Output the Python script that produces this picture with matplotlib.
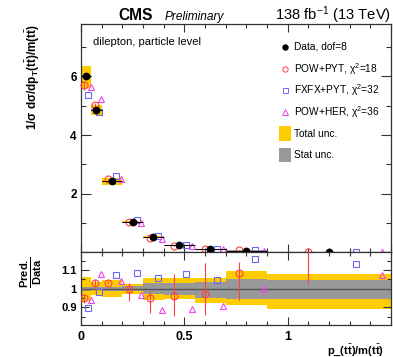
import numpy as np
import matplotlib
matplotlib.use("Agg")
import matplotlib.pyplot as plt
from matplotlib.ticker import MultipleLocator, FixedLocator

plt.rcParams['font.family'] = ['Liberation Sans', 'DejaVu Sans']
plt.rcParams['mathtext.fontset'] = 'custom'
plt.rcParams['mathtext.rm'] = 'Liberation Sans'
plt.rcParams['mathtext.bf'] = 'Liberation Sans:bold'
plt.rcParams['mathtext.it'] = 'Liberation Sans:italic'

# Binning in p_T(tt)/m(tt)
bin_edges = [0.0, 0.05, 0.1, 0.2, 0.3, 0.4, 0.55, 0.7, 0.9, 1.5]

# Normalised measured cross section
data_values = [6.00, 4.86, 2.42, 1.03, 0.52, 0.24, 0.11, 0.06, 0.012]

# Relative uncertainties of the measurement (up / down)
total_unc_up = [0.062, 0.037, 0.048, 0.027, 0.055, 0.055, 0.059, 0.094, 0.076]
total_unc_dn = [0.065, 0.033, 0.045, 0.027, 0.060, 0.055, 0.076, 0.089, 0.110]
stat_unc_up = [0.010, 0.008, 0.010, 0.014, 0.028, 0.032, 0.035, 0.053, 0.048]
stat_unc_dn = [0.010, 0.008, 0.010, 0.014, 0.028, 0.032, 0.048, 0.058, 0.053]

# Predictions expressed as ratio to data
ratio_pow_pyt = [0.952, 1.032, 1.032, 0.996, 0.950, 0.959, 0.973, 1.083, 1.240]
ratio_pow_pyt_err_up = [0.020, 0.018, 0.008, 0.036, 0.040, 0.120, 0.163, 0.058, 0.220]
ratio_pow_pyt_err_dn = [0.030, 0.020, 0.008, 0.062, 0.080, 0.107, 0.115, 0.145, 0.217]
ratio_fxfx_pyt = [0.894, 0.984, 1.071, 1.083, 1.056, 1.076, 1.048, 1.161, 1.131]
ratio_pow_her = [0.941, 1.076, 1.040, 0.964, 0.888, 0.891, 0.906, 1.000, 1.074]

legend_labels = ["Data, dof=8",
                 "POW+PYT, χ$^{2}$=18",
                 "FXFX+PYT, χ$^{2}$=32",
                 "POW+HER, χ$^{2}$=36",
                 "Total unc.",
                 "Stat unc."]

col_red = "#ff4040"
col_blue = "#6a6af0"
col_mag = "#ee44ee"
col_tot = "#ffcc00"
col_stat = "#999999"

edges = np.array(bin_edges)
lo, hi = edges[:-1], edges[1:]
width = hi - lo
centers = 0.5 * (lo + hi)
data = np.array(data_values)
tu, td = np.array(total_unc_up), np.array(total_unc_dn)
su, sd = np.array(stat_unc_up), np.array(stat_unc_dn)
r_red = np.array(ratio_pow_pyt)
r_red_up, r_red_dn = np.array(ratio_pow_pyt_err_up), np.array(ratio_pow_pyt_err_dn)
r_blue = np.array(ratio_fxfx_pyt)
r_mag = np.array(ratio_pow_her)

x_red = lo + 0.33 * width
x_blue = lo + 0.72 * width
x_mag = lo + 0.93 * width

fig = plt.figure(figsize=(3.93, 3.57), dpi=100)
ax = fig.add_axes([0.206, 0.2933, 0.7885, 0.6387])
rax = fig.add_axes([0.206, 0.0896, 0.7885, 0.2037])

# ---- upper panel ----
for i in range(len(data)):
    ax.fill_between([lo[i], hi[i]], data[i] * (1 - td[i]), data[i] * (1 + tu[i]),
                    color=col_tot, lw=0, zorder=1)
    ax.fill_between([lo[i], hi[i]], data[i] * (1 - sd[i]), data[i] * (1 + su[i]),
                    color=col_stat, lw=0, zorder=2)
ax.errorbar(centers, data, xerr=width / 2, fmt='o', color='black', ms=4.6,
            elinewidth=0.7, capsize=0, zorder=6, clip_on=False)
ax.errorbar(x_red, data * r_red, yerr=[data * r_red_dn, data * r_red_up], fmt='o',
            mfc='none', mec=col_red, ecolor=col_red, ms=5.0, mew=0.8,
            elinewidth=0.7, capsize=0, zorder=5, clip_on=False)
ax.plot(x_blue, data * r_blue, 's', mfc='none', mec=col_blue, ms=4.8, mew=0.8,
        zorder=5, clip_on=False)
ax.plot(x_mag, data * r_mag, '^', mfc='none', mec=col_mag, ms=4.8, mew=0.8,
        zorder=5, clip_on=False)

ax.set_xlim(0, 1.5)
ax.set_ylim(0, 7.78)
ax.yaxis.set_major_locator(FixedLocator([0, 2, 4, 6]))
ax.yaxis.set_minor_locator(MultipleLocator(1))
ax.xaxis.set_major_locator(MultipleLocator(0.5))
ax.xaxis.set_minor_locator(MultipleLocator(0.1))
ax.set_yticklabels(["", "2", "4", "6"])
ax.tick_params(axis='both', which='both', direction='in', top=True, right=True,
               labelbottom=False, width=0.8, colors='#333333', labelcolor='black')
ax.tick_params(axis='y', which='major', length=7.2, labelsize=8.5, pad=3)
ax.tick_params(axis='y', which='minor', length=3.6)
ax.tick_params(axis='x', which='major', length=6)
ax.tick_params(axis='x', which='minor', length=3)
for lab in ax.get_yticklabels():
    lab.set_fontweight('bold')
for s in ax.spines.values():
    s.set_linewidth(0.9)
    s.set_color('#333333')

ax.text(0.039, 0.922, "dilepton, particle level", transform=ax.transAxes,
        fontsize=8, va='center', ha='left')

# legend
lx_m, lx_t = 0.66, 0.688
rows = [0.902, 0.804, 0.711, 0.616, 0.518, 0.425]
ax.plot([lx_m], [rows[0]], 'o', color='black', ms=3.6, transform=ax.transAxes, clip_on=False)
ax.plot([lx_m], [rows[1]], 'o', mfc='none', mec=col_red, ms=3.8, mew=0.7, transform=ax.transAxes)
ax.plot([lx_m], [rows[2]], 's', mfc='none', mec=col_blue, ms=3.6, mew=0.7, transform=ax.transAxes)
ax.plot([lx_m], [rows[3]], '^', mfc='none', mec=col_mag, ms=3.8, mew=0.7, transform=ax.transAxes)
ax.add_patch(plt.Rectangle((0.640, 0.489), 0.038, 0.065, color=col_tot, lw=0,
                           transform=ax.transAxes))
ax.add_patch(plt.Rectangle((0.640, 0.395), 0.038, 0.064, color=col_stat, lw=0,
                           transform=ax.transAxes))
for y, lab in zip(rows, legend_labels):
    ax.text(lx_t, y, lab, transform=ax.transAxes, fontsize=7.3, va='center', ha='left')

# ---- ratio panel ----
for i in range(len(data)):
    rax.fill_between([lo[i], hi[i]], 1 - td[i], 1 + tu[i], color=col_tot, lw=0, zorder=1)
    rax.fill_between([lo[i], hi[i]], 1 - sd[i], 1 + su[i], color=col_stat, lw=0, zorder=2)
rax.axhline(1.0, color='#555555', lw=1.0, zorder=3)
rax.errorbar(x_red, r_red, yerr=[r_red_dn, r_red_up], fmt='o', mfc='none',
             mec=col_red, ecolor=col_red, ms=5.0, mew=0.8, elinewidth=0.8,
             capsize=0, zorder=5)
rax.plot(x_blue, r_blue, 's', mfc='none', mec=col_blue, ms=4.8, mew=0.8, zorder=5)
rax.plot(x_mag, r_mag, '^', mfc='none', mec=col_mag, ms=4.8, mew=0.8, zorder=5)

rax.set_xlim(0, 1.5)
rax.set_ylim(0.805, 1.195)
rax.yaxis.set_major_locator(FixedLocator([0.9, 1.0, 1.1]))
rax.yaxis.set_minor_locator(FixedLocator([0.85, 0.95, 1.05, 1.15]))
rax.set_yticklabels(["0.9", "1", "1.1"])
rax.xaxis.set_major_locator(FixedLocator([0, 0.5, 1.0]))
rax.xaxis.set_minor_locator(MultipleLocator(0.1))
rax.set_xticklabels(["0", "0.5", "1"])
rax.tick_params(axis='both', which='both', direction='in', top=True, right=True,
                width=0.8, colors='#333333', labelcolor='black')
rax.tick_params(axis='y', which='major', length=6, labelsize=8, pad=3)
rax.tick_params(axis='y', which='minor', length=3)
rax.tick_params(axis='x', which='major', length=6, labelsize=9, pad=4)
rax.tick_params(axis='x', which='minor', length=3)
for lab in rax.get_yticklabels() + rax.get_xticklabels():
    lab.set_fontweight('bold')
for s in rax.spines.values():
    s.set_linewidth(0.9)
    s.set_color('#333333')

# ---- labels and headers ----
fig.text(0.084, 0.933,
         r"1/σ dσ/dp$_{\mathbf{T}}$(t$\bar{\mathbf{t}}$)/m(t$\bar{\mathbf{t}}$)",
         rotation=90, ha='center', va='top', fontsize=8.5, fontweight='bold')
fig.text(0.079, 0.238, r"$\frac{\mathbf{Pred.}}{\mathbf{Data}}$", rotation=90,
         ha='center', va='center', fontsize=11.5)
fig.text(0.977, 0.02, r"p_(t$\bar{\mathbf{t}}$)/m(t$\bar{\mathbf{t}}$)",
         ha='right', va='center', fontsize=8, fontweight='bold')
fig.text(0.300, 0.944, "CMS", fontsize=11.2, fontweight='bold', ha='left', va='baseline')
fig.text(0.418, 0.944, "Preliminary", fontsize=8.6, style='italic', ha='left', va='baseline')
fig.text(0.995, 0.944, r"138 fb$^{-1}$ (13 TeV)", fontsize=10.6, ha='right', va='baseline')

fig.savefig("out.png", dpi=100)
